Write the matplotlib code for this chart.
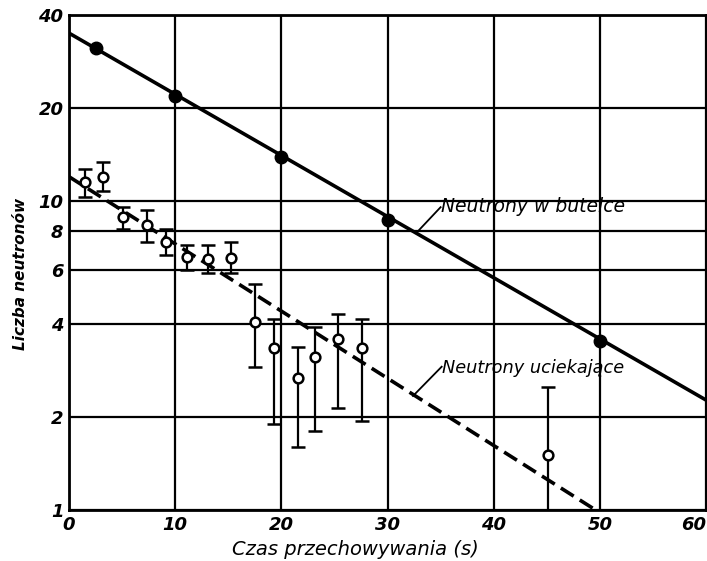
import matplotlib.pyplot as plt
from matplotlib.ticker import FixedLocator, NullLocator

# neutrony w butelce (pelne kropki) i prosta dopasowana
t_butelka = [2.5, 10, 20, 30, 50]
n_butelka = [31.3, 21.9, 13.9, 8.7, 3.53]
fit_butelka_t = [0, 60]
fit_butelka_n = [35.0, 2.27]

# neutrony uciekajace (puste kolka z bledami)
t_ucieka = [1.5, 3.2, 5.1, 7.3, 9.1, 11.1, 13.1, 15.3, 17.5, 19.3, 21.6, 23.2, 25.3, 27.6, 45.1]
n_ucieka = [11.5, 12.0, 8.9, 8.4, 7.35, 6.6, 6.5, 6.55, 4.07, 3.34, 2.67, 3.12, 3.57, 3.34, 1.51]
n_gora = [12.7, 13.4, 9.6, 9.35, 8.1, 7.2, 7.2, 7.35, 5.4, 4.15, 3.38, 3.9, 4.3, 4.15, 2.51]
n_dol = [10.3, 10.8, 8.15, 7.4, 6.7, 6.0, 5.85, 5.85, 2.9, 1.9, 1.6, 1.8, 2.14, 1.94, 1.0]
fit_ucieka_t = [0, 49.6]
fit_ucieka_n = [12.0, 1.0]

y_ticks = [1, 2, 4, 6, 8, 10, 20, 40]
x_ticks = [0, 10, 20, 30, 40, 50, 60]

fig = plt.figure(figsize=(7.07, 5.61), dpi=100)
ax = fig.add_axes([0.0976, 0.0909, 0.901, 0.882])

ax.set_yscale('log')
ax.set_xlim(0, 60)
ax.set_ylim(1, 40)

# siatka tylko w miejscach opisanych wartosci
ax.yaxis.set_major_locator(FixedLocator(y_ticks))
ax.yaxis.set_minor_locator(NullLocator())
ax.set_yticklabels([str(v) for v in y_ticks])
ax.set_xticks(x_ticks)
ax.grid(True, color='black', linewidth=1.6)
ax.tick_params(axis='both', which='both', length=0, labelsize=13, pad=4)
for lab in ax.get_xticklabels() + ax.get_yticklabels():
    lab.set_fontstyle('italic')
    lab.set_fontweight('bold')
# ostatni opis osi x przy samej krawedzi, wiec wyrownany do prawej
ax.get_xticklabels()[-1].set_horizontalalignment('right')
for s in ax.spines.values():
    s.set_linewidth(2)

# linie dopasowania
ax.plot(fit_butelka_t, fit_butelka_n, color='black', linewidth=2.6, zorder=3)
ax.plot(fit_ucieka_t, fit_ucieka_n, color='black', linewidth=2.6,
        dashes=(4.2, 2), zorder=3)

# punkty pomiarowe
ax.plot(t_butelka, n_butelka, 'o', color='black', markersize=9, zorder=4)
err = [[n - d for n, d in zip(n_ucieka, n_dol)],
       [g - n for n, g in zip(n_ucieka, n_gora)]]
ax.errorbar(t_ucieka, n_ucieka, yerr=err, fmt='o', color='black',
            markerfacecolor='white', markeredgewidth=1.8, markersize=7,
            elinewidth=1.6, capsize=5, capthick=1.6, zorder=4)

# opisy krzywych z kreskami
ax.plot([32.7, 35.0], [7.88, 9.56], color='black', linewidth=1.3, zorder=3)
ax.text(35.0, 9.6, 'Neutrony w butelce', fontsize=13.5, fontstyle='italic',
        ha='left', va='center')
ax.plot([32.4, 35.1], [2.34, 2.91], color='black', linewidth=1.3, zorder=3)
ax.text(35.1, 2.88, 'Neutrony uciekające', fontsize=12.8, fontstyle='italic',
        ha='left', va='center')

fig.text(0.029, 0.512, 'Liczba neutronów', fontsize=11, fontstyle='italic',
         fontweight='bold', rotation=90, ha='center', va='center')
fig.text(0.502, 0.02, 'Czas przechowywania (s)', fontsize=14,
         fontstyle='italic', ha='center', va='center')

fig.savefig('out.png', dpi=100, facecolor='white')
